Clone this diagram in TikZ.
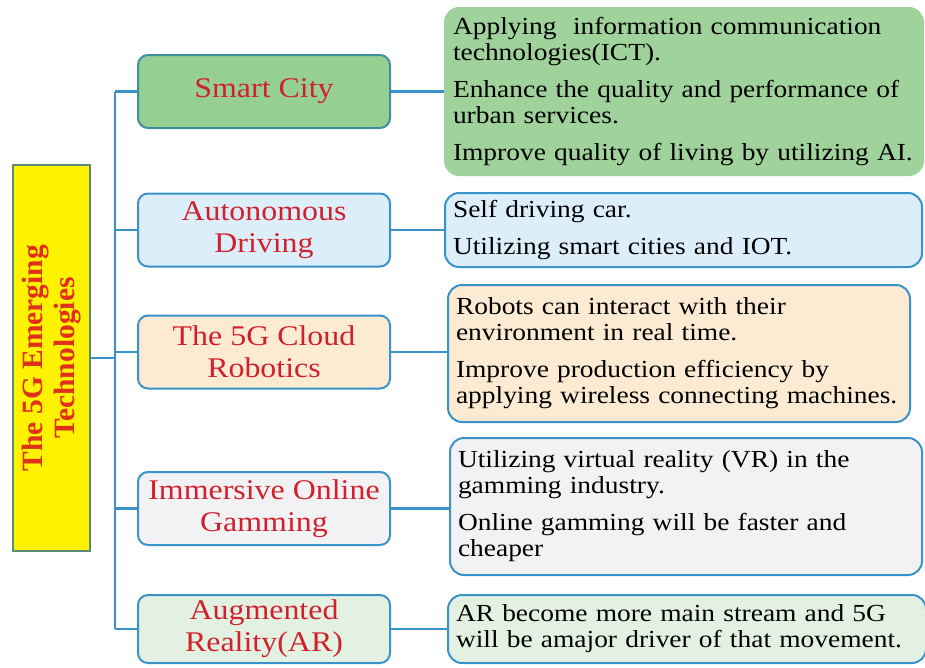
\documentclass[tikz,border=0pt]{standalone}
\usepackage{fontspec}
\setmainfont[FakeStretch=1.12]{Liberation Serif}
\newfontfamily\titlefont{Liberation Serif}
\definecolor{linec}{HTML}{3A93C8}
\definecolor{scfill}{HTML}{95CF92}
\definecolor{scdraw}{HTML}{3E8E9E}
\definecolor{gfill}{HTML}{A0D39B}
\definecolor{bfill}{HTML}{DDEEFB}
\definecolor{ofill}{HTML}{FCEBD2}
\definecolor{grfill}{HTML}{F2F2F4}
\definecolor{arfill}{HTML}{E3F1E2}
\definecolor{redtxt}{HTML}{D0202C}
\definecolor{ttxt}{HTML}{E0301A}
\definecolor{ybord}{HTML}{5B8B70}
\begin{document}
\begin{tikzpicture}[x=1pt,y=-1pt,
  conn/.style={draw=linec,line width=2.4pt},
  midbox/.style={draw=linec,line width=2pt,rounded corners=10pt,minimum width=252pt,
    minimum height=73pt,inner sep=0pt,align=center,text=redtxt,
    font=\fontsize{28.5}{32}\selectfont},
  rbox/.style={draw=linec,line width=2pt,rounded corners=14pt,inner xsep=8pt,inner ysep=0pt,
    align=left,font=\fontsize{24.5}{26}\selectfont,text=black}]
\useasboundingbox (0,0) rectangle (925,667);
% title box
\node[draw=ybord,line width=2pt,fill=yellow,minimum width=77pt,minimum height=386pt,inner sep=0pt]
  (yb) at (51.5,358) {};
\node[rotate=90,align=center,text=ttxt,font=\titlefont\bfseries\fontsize{29.5}{32}\selectfont]
  (yt) at (52,358) {The 5G Emerging\\Technologies};
% middle boxes
\node[midbox,fill=scfill,draw=scdraw] (sc) at (264,91.5) {Smart City};
\node[midbox,fill=bfill] (ad) at (264,230) {Autonomous\\Driving};
\node[midbox,fill=ofill] (cr) at (264,352) {The 5G Cloud\\Robotics};
\node[midbox,fill=grfill] (ig) at (264,508.5) {Immersive Online\\Gamming};
\node[midbox,fill=arfill,minimum height=68pt] (ar) at (264,629) {Augmented\\Reality(AR)};
% right boxes
\node[rbox,fill=gfill,draw=gfill,minimum height=167pt,text width=462pt] (g1) at (684,91.5)
  {Applying\ \ information communication\\technologies(ICT).\\[11pt]
   Enhance the quality and performance of\\urban services.\\[11pt]
   Improve quality of living by utilizing AI.};
\node[rbox,fill=bfill,minimum height=74pt,text width=461pt] (b1) at (683.5,230)
  {Self driving car.\\[11pt]Utilizing smart cities and IOT.};
\node[rbox,fill=ofill,minimum height=137pt,text width=446pt] (o1) at (679,353.5)
  {Robots can interact with their\\environment in real time.\\[11pt]
   Improve production efficiency by\\applying wireless connecting machines.};
\node[rbox,fill=grfill,minimum height=137pt,text width=456pt] (gr1) at (686,506.5)
  {Utilizing virtual reality (VR) in the\\gamming industry.\\[11pt]
   Online gamming will be faster and\\cheaper};
\node[rbox,fill=arfill,minimum height=68pt,text width=462pt] (a1) at (687,629)
  {AR become more main stream and 5G\\will be amajor driver of that movement.};
% connectors
\coordinate (tt) at (115,91.5);
\coordinate (tb) at (115,629);
\draw[conn] (tt) -- (tb);
\draw[conn] (yb.east) -- (yb.east -| tt);
\foreach \m/\r in {sc/g1,ad/b1,cr/o1,ig/gr1,ar/a1}{
  \draw[conn] (\m.west -| tt) -- (\m.west);
  \draw[conn] (\m.east) -- (\m.east -| \r.west);
}
\end{tikzpicture}
\end{document}
